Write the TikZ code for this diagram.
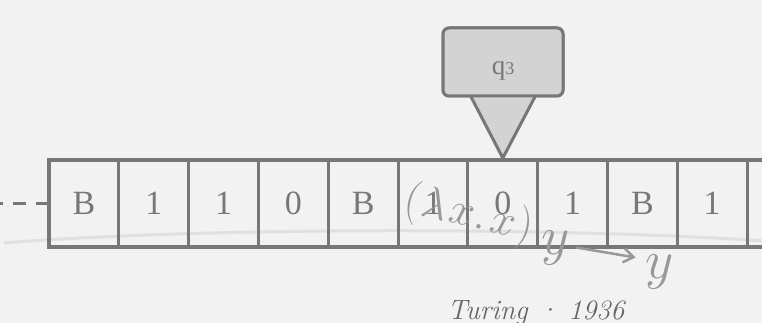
\RequirePackage{fix-cm}
\documentclass[tikz,border=0pt]{standalone}
\usepackage{fontspec}
\newfontfamily\cellfont{Liberation Serif}
\usetikzlibrary{arrows.meta,calc}
\definecolor{bg}{HTML}{F2F2F2}
\definecolor{ink}{HTML}{777777}
\definecolor{headfill}{HTML}{D3D3D3}
\definecolor{lam}{HTML}{989898}
\definecolor{arcc}{HTML}{E0E0E0}
\definecolor{capt}{HTML}{666666}
\begin{document}
\begin{tikzpicture}[x=1pt,y=-1pt,
  cell/.style={draw=ink,line width=3pt,minimum width=69.8pt,minimum height=87pt,
    inner sep=0pt,outer sep=0pt,text=ink,font=\cellfont\fontsize{34}{34}\selectfont},
  headbox/.style={draw=ink,line width=3pt,fill=headfill,rounded corners=6pt,
    minimum width=120pt,minimum height=68pt,inner sep=0pt,outer sep=0pt},
  lamtext/.style={text=lam,inner sep=0pt},
  capstyle/.style={text=capt,font=\itshape\fontsize{28}{28}\selectfont,inner sep=0pt}]
\useasboundingbox (0,0) rectangle (762,323);
\fill[bg] (0,0) rectangle (762,323);
\clip (0,0) rectangle (762,323);
% faint arc
\draw[arcc,line width=3pt] (4,243) .. controls (200,227) and (560,227) .. (765,241);
% tape
\foreach \s [count=\i from 0] in {B,1,1,0,B,1,0,1,B,1,{}}
  \node[cell] (c\i) at (84+69.8*\i,203.5) {\s};
\draw[ink,line width=4pt] (c0.north west) rectangle (c10.south east);
\coordinate (tl) at (0,202);
\draw[ink,line width=3pt,dash pattern=on 13pt off 10pt] (c0.west) -- (c0.west -| tl);
% head
\node[headbox] (head) at (503,62) {};
\coordinate (apex) at ($(c6.north)+(0,-2)$);
\filldraw[draw=ink,fill=headfill,line width=3pt,line join=round]
  ($(head.south)+(-34.5,-4)$) -- (apex) -- ($(head.south)+(34.5,-4)$) -- cycle;
\node[headbox] (head2) at (head.center) {};
\node[text=ink,font=\cellfont\fontsize{27}{27}\selectfont,inner sep=0pt,anchor=base] (q)
  at ($(head.center)+(0,13)$) {q\raisebox{0.5pt}{\fontsize{18}{18}\selectfont 3}};
% lambda expression
\node[lamtext,font=\fontsize{45}{45}\selectfont,rotate=-13,anchor=base] (lx)
  at (466,226) {$(\kern2pt\lambda\kern3pt x\kern1pt.\kern4pt x\kern1pt)$};
\node[lamtext,font=\fontsize{55}{55}\selectfont,anchor=base] (y1) at (556,254) {$y$};
\node[lamtext,font=\fontsize{55}{55}\selectfont,anchor=base] (y2) at (660,278) {$y$};
\draw[lam,line width=2.5pt,-{Straight Barb[length=10pt,width=14pt]}]
  ($(y1.east)+(6,0)$) -- ($(y2.west)+(-10,-14)$);
% caption
\node[capstyle,anchor=base] (cap) at (536,319) {Turing · 1936};
\end{tikzpicture}
\end{document}
